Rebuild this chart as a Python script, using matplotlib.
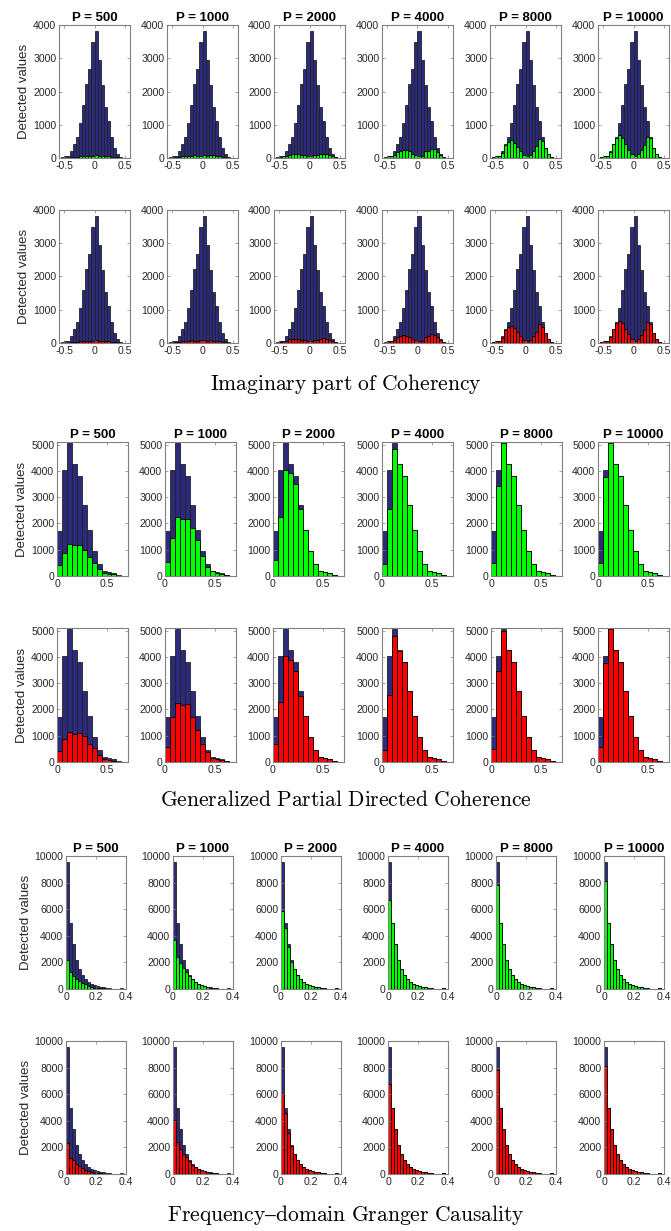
import numpy as np
import matplotlib
matplotlib.use("Agg")
import matplotlib.pyplot as plt

plt.rcParams['font.family'] = ['Liberation Sans', 'DejaVu Sans']
plt.rcParams['mathtext.fontset'] = 'cm'
plt.rcParams['axes.unicode_minus'] = False

P_LABELS = ["P = 500", "P = 1000", "P = 2000", "P = 4000", "P = 8000", "P = 10000"]

# ---------------- Imaginary part of Coherency (22 bins, -0.55..0.55) ----------------
IC_EDGES = np.round(np.arange(-0.55, 0.5501, 0.05), 3)
IC_TOTAL = [20, 50, 70, 200, 430, 620, 1050, 1580, 2220, 2680, 3500, 3830, 2950, 2200, 1520, 1100, 620, 300, 130, 40, 15, 5]
IC_GREEN_500 = [0, 0, 10, 20, 30, 40, 50, 50, 60, 60, 70, 80, 70, 60, 60, 50, 40, 30, 20, 10, 0, 0]
IC_GREEN_1000 = [0, 10, 20, 30, 50, 60, 70, 70, 80, 70, 70, 80, 70, 80, 80, 70, 60, 40, 30, 10, 0, 0]
IC_GREEN_2000 = [5, 30, 50, 70, 100, 130, 130, 120, 100, 80, 60, 70, 80, 100, 120, 130, 120, 80, 50, 20, 5, 0]
IC_GREEN_4000 = [10, 50, 60, 80, 180, 220, 250, 230, 200, 130, 80, 60, 70, 200, 210, 270, 280, 170, 90, 30, 10, 0]
IC_GREEN_8000 = [20, 50, 60, 150, 400, 480, 540, 460, 340, 200, 100, 70, 90, 200, 350, 570, 500, 290, 130, 40, 10, 0]
IC_GREEN_10000 = [20, 60, 70, 180, 420, 600, 680, 600, 420, 250, 120, 70, 110, 240, 400, 620, 600, 300, 130, 40, 10, 0]
IC_RED_500 = [0, 0, 10, 20, 30, 40, 60, 50, 60, 70, 70, 90, 70, 60, 60, 50, 40, 30, 20, 10, 0, 0]
IC_RED_1000 = [0, 10, 20, 30, 50, 60, 70, 80, 70, 70, 80, 80, 70, 80, 70, 70, 60, 40, 30, 10, 0, 0]
IC_RED_2000 = [5, 30, 50, 70, 110, 130, 130, 120, 100, 80, 60, 70, 80, 100, 120, 140, 120, 80, 50, 20, 5, 0]
IC_RED_4000 = [10, 50, 60, 80, 190, 220, 240, 220, 190, 130, 80, 60, 70, 180, 220, 260, 250, 170, 90, 30, 10, 0]
IC_RED_8000 = [20, 50, 60, 160, 400, 470, 510, 450, 330, 200, 100, 70, 90, 210, 330, 560, 480, 290, 130, 40, 10, 0]
IC_RED_10000 = [20, 60, 70, 180, 420, 610, 650, 600, 420, 260, 120, 70, 110, 230, 400, 640, 580, 300, 130, 40, 10, 0]

# ---------------- GPDC (14 bins, 0..0.7) ----------------
GP_EDGES = np.round(np.arange(0.0, 0.7001, 0.05), 3)
GP_TOTAL = [1700, 4020, 5060, 4270, 3800, 2690, 1760, 950, 440, 190, 150, 100, 25, 10]
GP_GREEN_500 = [400, 870, 1220, 1170, 1190, 1000, 720, 500, 260, 100, 60, 80, 10, 0]
GP_GREEN_1000 = [530, 1460, 2250, 2180, 2180, 1830, 1360, 750, 340, 190, 130, 90, 20, 10]
GP_GREEN_2000 = [620, 2260, 4030, 3930, 3510, 2560, 1750, 950, 440, 190, 150, 100, 25, 10]
GP_GREEN_4000 = [470, 2560, 4820, 4250, 3800, 2690, 1760, 950, 440, 190, 150, 100, 25, 10]
GP_GREEN_8000 = [480, 3430, 5060, 4270, 3800, 2690, 1760, 950, 440, 190, 150, 100, 25, 10]
GP_GREEN_10000 = [480, 3750, 5060, 4270, 3800, 2690, 1760, 950, 440, 190, 150, 100, 25, 10]
GP_RED_500 = [410, 880, 1140, 1060, 1110, 990, 700, 530, 250, 100, 70, 50, 10, 0]
GP_RED_1000 = [560, 1700, 2250, 2170, 2220, 1700, 1230, 700, 380, 170, 130, 80, 20, 10]
GP_RED_2000 = [700, 2300, 4030, 3880, 3480, 2530, 1740, 950, 440, 190, 150, 100, 25, 10]
GP_RED_4000 = [460, 2560, 4780, 4220, 3800, 2690, 1760, 950, 440, 190, 150, 100, 25, 10]
GP_RED_8000 = [480, 3450, 5000, 4270, 3800, 2690, 1760, 950, 440, 190, 150, 100, 25, 10]
GP_RED_10000 = [560, 3750, 5060, 4270, 3800, 2690, 1760, 950, 440, 190, 150, 100, 25, 10]

# ---------------- Frequency-domain Granger Causality (20 bins, 0..0.4) ----------------
FG_EDGES = np.round(np.arange(0.0, 0.4001, 0.02), 3)
FG_TOTAL = [9550, 5000, 3380, 2200, 1500, 1050, 750, 550, 400, 300, 220, 170, 120, 80, 50, 30, 20, 15, 40, 20]
FG_GREEN_500 = [2200, 1300, 1000, 750, 620, 470, 350, 220, 150, 110, 80, 60, 40, 25, 15, 10, 5, 5, 20, 10]
FG_GREEN_1000 = [3720, 2430, 1930, 1550, 1250, 1000, 720, 520, 380, 290, 210, 160, 110, 70, 45, 28, 18, 12, 35, 18]
FG_GREEN_2000 = [5850, 4550, 3130, 2050, 1480, 1050, 750, 550, 400, 300, 220, 170, 120, 80, 50, 30, 20, 15, 40, 20]
FG_GREEN_4000 = [6700, 5000, 3380, 2200, 1500, 1050, 750, 550, 400, 300, 220, 170, 120, 80, 50, 30, 20, 15, 40, 20]
FG_GREEN_8000 = [7850, 5000, 3380, 2200, 1500, 1050, 750, 550, 400, 300, 220, 170, 120, 80, 50, 30, 20, 15, 40, 20]
FG_GREEN_10000 = [8100, 5000, 3380, 2200, 1500, 1050, 750, 550, 400, 300, 220, 170, 120, 80, 50, 30, 20, 15, 40, 20]
FG_RED_500 = [2330, 1200, 1030, 730, 630, 480, 330, 230, 150, 100, 70, 50, 30, 20, 10, 10, 5, 5, 20, 10]
FG_RED_1000 = [4050, 2400, 1900, 1530, 1280, 950, 700, 500, 380, 280, 200, 150, 100, 70, 45, 28, 18, 12, 35, 18]
FG_RED_2000 = [6000, 4550, 3050, 2100, 1480, 1050, 750, 550, 400, 300, 220, 170, 120, 80, 50, 30, 20, 15, 40, 20]
FG_RED_4000 = [6750, 5000, 3380, 2200, 1500, 1050, 750, 550, 400, 300, 220, 170, 120, 80, 50, 30, 20, 15, 40, 20]
FG_RED_8000 = [7850, 5000, 3380, 2200, 1500, 1050, 750, 550, 400, 300, 220, 170, 120, 80, 50, 30, 20, 15, 40, 20]
FG_RED_10000 = [8150, 5000, 3380, 2200, 1500, 1050, 750, 550, 400, 300, 220, 170, 120, 80, 50, 30, 20, 15, 40, 20]

SECTION_TITLES = ["Imaginary part of Coherency",
                  "Generalized Partial Directed Coherence",
                  "Frequency\u2013domain Granger Causality"]

W, H = 671, 1231
fig = plt.figure(figsize=(W / 100, H / 100), dpi=100)

NAVY = '#2c2a7c'
GREEN = '#00ff00'
RED = '#ff0000'
AXCOL = '#808080'
TXT = '#262626'

sections = [
    dict(edges=IC_EDGES, total=IC_TOTAL,
         green=[IC_GREEN_500, IC_GREEN_1000, IC_GREEN_2000, IC_GREEN_4000, IC_GREEN_8000, IC_GREEN_10000],
         red=[IC_RED_500, IC_RED_1000, IC_RED_2000, IC_RED_4000, IC_RED_8000, IC_RED_10000],
         xlim=(-0.59, 0.59), ylim=(0, 4000), xticks=[-0.5, 0, 0.5], xtl=['-0.5', '0', '0.5'],
         yticks=[0, 1000, 2000, 3000, 4000],
         lefts=[59, 167, 274, 382, 490, 598], width=71,
         rows=[(25, 158), (210, 343)], title_y=384),
    dict(edges=GP_EDGES, total=GP_TOTAL,
         green=[GP_GREEN_500, GP_GREEN_1000, GP_GREEN_2000, GP_GREEN_4000, GP_GREEN_8000, GP_GREEN_10000],
         red=[GP_RED_500, GP_RED_1000, GP_RED_2000, GP_RED_4000, GP_RED_8000, GP_RED_10000],
         xlim=(0, 0.717), ylim=(0, 5100), xticks=[0, 0.5], xtl=['0', '0.5'],
         yticks=[0, 1000, 2000, 3000, 4000, 5000],
         lefts=[57, 165, 273, 382, 491, 598], width=71,
         rows=[(442, 576), (628, 762)], title_y=800),
    dict(edges=FG_EDGES, total=FG_TOTAL,
         green=[FG_GREEN_500, FG_GREEN_1000, FG_GREEN_2000, FG_GREEN_4000, FG_GREEN_8000, FG_GREEN_10000],
         red=[FG_RED_500, FG_RED_1000, FG_RED_2000, FG_RED_4000, FG_RED_8000, FG_RED_10000],
         xlim=(0, 0.4), ylim=(0, 10000), xticks=[0, 0.2, 0.4], xtl=['0', '0.2', '0.4'],
         yticks=[0, 2000, 4000, 6000, 8000, 10000],
         lefts=[66, 173, 281, 388, 496, 604], width=60,
         rows=[(856, 989), (1041, 1174)], title_y=1215),
]

for si, sec in enumerate(sections):
    edges = np.asarray(sec['edges'])
    bw = edges[1] - edges[0]
    for ri, (top, bot) in enumerate(sec['rows']):
        overlay = sec['green'] if ri == 0 else sec['red']
        ocol = GREEN if ri == 0 else RED
        for ci in range(6):
            left = sec['lefts'][ci]
            ax = fig.add_axes([left / W, 1 - bot / H, sec['width'] / W, (bot - top) / H])
            total = np.asarray(sec['total'], dtype=float)
            det = np.minimum(np.asarray(overlay[ci], dtype=float), total)
            ax.bar(edges[:-1], total, width=bw, align='edge', color=NAVY,
                   edgecolor='#222222', linewidth=0.6)
            ax.bar(edges[:-1], det, width=bw, align='edge', color=ocol,
                   edgecolor='black', linewidth=0.6)
            ax.set_xlim(*sec['xlim'])
            ax.set_ylim(*sec['ylim'])
            ax.set_xticks(sec['xticks'])
            ax.set_xticklabels(sec['xtl'])
            ax.set_yticks(sec['yticks'])
            ax.set_yticklabels([str(v) for v in sec['yticks']])
            ax.tick_params(direction='in', top=True, right=True, length=2, width=0.5,
                           colors=AXCOL, labelcolor=TXT, labelsize=7.6, pad=2)
            for sp in ax.spines.values():
                sp.set_color(AXCOL)
                sp.set_linewidth(0.8)
            if ri == 0:
                ax.set_title(P_LABELS[ci], fontsize=9.5, fontweight='bold', pad=3)
            if ci == 0:
                ax.set_ylabel('Detected values', fontsize=9.5, color=TXT, labelpad=2)
    txt = SECTION_TITLES[si].replace(' ', r'\ ')
    fig.text(346 / W, 1 - sec['title_y'] / H, r'$\mathrm{' + txt + '}$',
             ha='center', va='center', fontsize=15.5, color='black')

fig.savefig('out.png', dpi=100)
